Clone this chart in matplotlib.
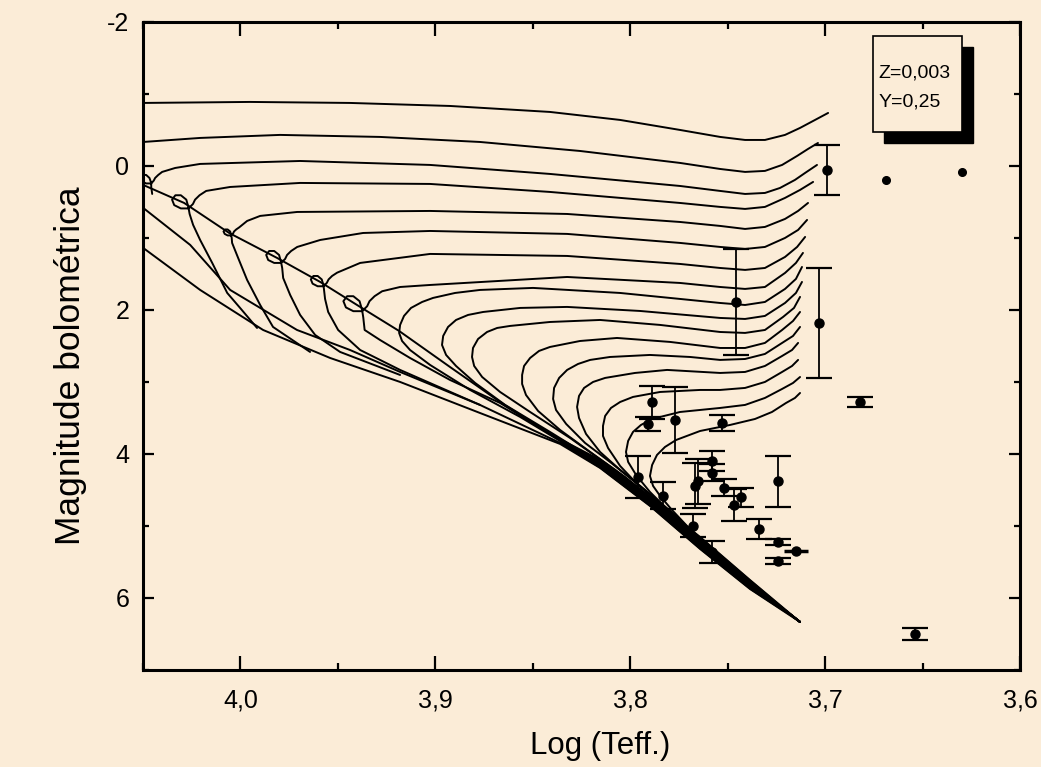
import matplotlib
matplotlib.use("Agg")
import matplotlib.pyplot as plt
from matplotlib.ticker import MultipleLocator, FuncFormatter
from matplotlib.patches import Rectangle

plt.rcParams['font.family'] = ['Liberation Sans', 'DejaVu Sans']
plt.rcParams['axes.unicode_minus'] = False

BG = '#fbecd7'

# ---- isochrones (log Teff, Mbol) ----
iso01_logt = [4.0499, 3.9951, 3.9438, 3.8925, 3.8412, 3.8052, 3.7745, 3.7539, 3.7411, 3.7309,
              3.7206, 3.7129, 3.7052, 3.6985]
iso01_mbol = [-0.875, -0.889, -0.875, -0.833, -0.750, -0.639, -0.500, -0.403, -0.361, -0.361,
              -0.431, -0.528, -0.639, -0.736]

iso02_logt = [4.0499, 4.0207, 3.9797, 3.9284, 3.8771, 3.8258, 3.7745, 3.7539, 3.7411, 3.7309,
              3.7221, 3.7144, 3.7088, 3.7037]
iso02_mbol = [-0.333, -0.389, -0.431, -0.403, -0.333, -0.208, -0.042, 0.042, 0.083, 0.069,
              -0.014, -0.139, -0.236, -0.319]

iso03_logt = [4.0453, 4.0458, 4.0458, 4.0467, 4.0484, 4.0503, 4.0513, 4.0506, 4.0484, 4.0458,
              4.0445, 4.0438, 4.0422, 4.0402, 4.0335, 4.0207, 3.9694, 3.9027, 3.8412, 3.7745,
              3.7539, 3.7411, 3.7309, 3.7232, 3.7155, 3.7103, 3.7042]
iso03_mbol = [0.389, 0.292, 0.236, 0.167, 0.125, 0.125, 0.167, 0.214, 0.243, 0.243,
              0.204, 0.167, 0.125, 0.083, 0.028, -0.028, -0.069, -0.014, 0.111, 0.278,
              0.347, 0.389, 0.375, 0.306, 0.194, 0.097, -0.014]

iso04_logt = [3.9915, 4.0002, 4.0068, 4.0145, 4.0207, 4.0243, 4.0261, 4.0267, 4.0278, 4.0306,
              4.0334, 4.0351, 4.0340, 4.0306, 4.0267, 4.0244, 4.0233, 4.0210, 4.0176, 4.0053,
              3.9694, 3.9027, 3.8412, 3.7745, 3.7539, 3.7411, 3.7309, 3.7206, 3.7129, 3.7062]
iso04_mbol = [2.250, 1.972, 1.764, 1.347, 1.028, 0.819, 0.667, 0.575, 0.468, 0.407,
              0.407, 0.468, 0.544, 0.590, 0.590, 0.529, 0.468, 0.407, 0.347, 0.292,
              0.236, 0.250, 0.361, 0.514, 0.569, 0.597, 0.569, 0.444, 0.333, 0.222]

iso05_logt = [3.9643, 3.9833, 3.9899, 3.9966, 4.0012, 4.0043, 4.0045, 4.0048, 4.0053, 4.0066,
              4.0079, 4.0087, 4.0081, 4.0066, 4.0048, 4.0038, 4.0033, 4.0022, 4.0007, 3.9966,
              3.9899, 3.9709, 3.9027, 3.8324, 3.7745, 3.7539, 3.7411, 3.7309, 3.7206, 3.7139,
              3.7088]
iso05_mbol = [2.583, 2.236, 1.931, 1.583, 1.278, 1.069, 1.000, 0.958, 0.910, 0.882,
              0.882, 0.910, 0.944, 0.965, 0.965, 0.938, 0.910, 0.882, 0.854, 0.764,
              0.694, 0.639, 0.625, 0.667, 0.778, 0.833, 0.875, 0.847, 0.736, 0.625,
              0.514]

iso06_logt = [3.9181, 3.9489, 3.9617, 3.9694, 3.9745, 3.9781, 3.9786, 3.9792, 3.9802, 3.9827,
              3.9853, 3.9868, 3.9858, 3.9827, 3.9792, 3.9771, 3.9761, 3.9740, 3.9709, 3.9591,
              3.9371, 3.9027, 3.8324, 3.7745, 3.7539, 3.7411, 3.7309, 3.7206, 3.7139, 3.7093]
iso06_mbol = [2.903, 2.583, 2.347, 2.069, 1.792, 1.556, 1.417, 1.333, 1.236, 1.181,
              1.181, 1.236, 1.306, 1.347, 1.347, 1.292, 1.236, 1.181, 1.125, 1.028,
              0.931, 0.903, 0.944, 1.069, 1.125, 1.153, 1.125, 1.000, 0.889, 0.750]

iso07_logt = [3.8771, 3.9181, 3.9386, 3.9499, 3.9550, 3.9566, 3.9571, 3.9574, 3.9583, 3.9604,
              3.9626, 3.9639, 3.9630, 3.9604, 3.9574, 3.9557, 3.9548, 3.9530, 3.9504, 3.9386,
              3.9027, 3.8324, 3.7745, 3.7539, 3.7411, 3.7309, 3.7206, 3.7144, 3.7103]
iso07_mbol = [3.319, 2.833, 2.556, 2.278, 2.028, 1.847, 1.729, 1.658, 1.576, 1.528,
              1.528, 1.576, 1.635, 1.671, 1.671, 1.624, 1.576, 1.528, 1.482, 1.347,
              1.222, 1.250, 1.361, 1.417, 1.444, 1.417, 1.264, 1.125, 0.986]

iso08_logt = [3.8360, 3.8668, 3.8925, 3.9130, 3.9284, 3.9363, 3.9370, 3.9376, 3.9389, 3.9421,
              3.9453, 3.9472, 3.9459, 3.9421, 3.9376, 3.9350, 3.9338, 3.9312, 3.9273, 3.9181,
              3.9027, 3.8324, 3.7745, 3.7539, 3.7411, 3.7309, 3.7206, 3.7150, 3.7114]
iso08_mbol = [3.806, 3.292, 2.972, 2.667, 2.417, 2.278, 2.104, 2.000, 1.878, 1.809,
              1.809, 1.878, 1.965, 2.017, 2.017, 1.948, 1.878, 1.809, 1.740, 1.681,
              1.653, 1.542, 1.625, 1.681, 1.708, 1.681, 1.486, 1.347, 1.208]

iso09_logt = [3.7129, 3.7386, 3.7642, 3.8052, 3.8309, 3.8565, 3.8822, 3.9027, 3.9130, 3.9171,
              3.9186, 3.9181, 3.9161, 3.9125, 3.9068, 3.9012, 3.8899, 3.8771, 3.8499, 3.8052,
              3.7745, 3.7539, 3.7411, 3.7309, 3.7206, 3.7150, 3.7119]
iso09_mbol = [6.333, 5.792, 5.194, 4.333, 3.903, 3.486, 3.111, 2.764, 2.556, 2.431,
              2.319, 2.208, 2.083, 1.972, 1.889, 1.833, 1.764, 1.722, 1.694, 1.764,
              1.847, 1.903, 1.931, 1.889, 1.708, 1.569, 1.403]

iso10_logt = [3.7129, 3.7386, 3.7642, 3.7950, 3.8155, 3.8412, 3.8642, 3.8796, 3.8894, 3.8945,
              3.8966, 3.8960, 3.8935, 3.8894, 3.8832, 3.8755, 3.8565, 3.8324, 3.7950, 3.7539,
              3.7411, 3.7309, 3.7206, 3.7150, 3.7119]
iso10_mbol = [6.333, 5.792, 5.194, 4.528, 4.125, 3.694, 3.319, 3.014, 2.778, 2.625,
              2.486, 2.361, 2.236, 2.139, 2.069, 2.028, 1.972, 1.958, 2.014, 2.111,
              2.125, 2.083, 1.903, 1.764, 1.611]

iso11_logt = [3.7129, 3.7386, 3.7642, 3.7899, 3.8078, 3.8309, 3.8514, 3.8668, 3.8760, 3.8801,
              3.8812, 3.8807, 3.8781, 3.8735, 3.8683, 3.8617, 3.8412, 3.8155, 3.7847, 3.7539,
              3.7411, 3.7309, 3.7216, 3.7160, 3.7129]
iso11_mbol = [6.333, 5.792, 5.194, 4.597, 4.222, 3.778, 3.417, 3.139, 2.931, 2.778,
              2.653, 2.528, 2.403, 2.306, 2.250, 2.222, 2.167, 2.139, 2.208, 2.306,
              2.319, 2.278, 2.097, 1.972, 1.819]

iso12_logt = [3.7129, 3.7386, 3.7642, 3.7847, 3.8027, 3.8206, 3.8360, 3.8473, 3.8535, 3.8555,
              3.8555, 3.8545, 3.8514, 3.8468, 3.8412, 3.8258, 3.8068, 3.7796, 3.7539, 3.7411,
              3.7309, 3.7221, 3.7165, 3.7129]
iso12_mbol = [6.333, 5.792, 5.194, 4.708, 4.319, 3.972, 3.667, 3.403, 3.181, 3.028,
              2.903, 2.778, 2.667, 2.569, 2.514, 2.431, 2.389, 2.444, 2.528, 2.528,
              2.458, 2.278, 2.153, 2.028]

iso13_logt = [3.7129, 3.7386, 3.7642, 3.7796, 3.7950, 3.8104, 3.8232, 3.8329, 3.8381, 3.8396,
              3.8391, 3.8365, 3.8324, 3.8268, 3.8206, 3.8104, 3.7899, 3.7693, 3.7539, 3.7411,
              3.7309, 3.7221, 3.7165, 3.7129]
iso13_mbol = [6.333, 5.792, 5.194, 4.806, 4.444, 4.111, 3.847, 3.583, 3.389, 3.236,
              3.083, 2.944, 2.833, 2.750, 2.694, 2.653, 2.625, 2.653, 2.694, 2.681,
              2.611, 2.458, 2.361, 2.236]

iso14_logt = [3.7129, 3.7386, 3.7616, 3.7770, 3.7924, 3.8052, 3.8155, 3.8227, 3.8263, 3.8273,
              3.8263, 3.8237, 3.8191, 3.8129, 3.7976, 3.7811, 3.7539, 3.7411, 3.7309, 3.7221,
              3.7170, 3.7139]
iso14_mbol = [6.333, 5.792, 5.264, 4.847, 4.500, 4.222, 3.972, 3.722, 3.500, 3.347,
              3.194, 3.083, 3.000, 2.944, 2.875, 2.833, 2.875, 2.861, 2.778, 2.639,
              2.556, 2.458]

iso15_logt = [3.7129, 3.7386, 3.7591, 3.7719, 3.7847, 3.7960, 3.8052, 3.8114, 3.8140, 3.8140,
              3.8129, 3.8099, 3.8052, 3.7986, 3.7847, 3.7642, 3.7539, 3.7411, 3.7309, 3.7221,
              3.7170, 3.7139]
iso15_mbol = [6.333, 5.792, 5.333, 4.986, 4.681, 4.431, 4.167, 3.917, 3.750, 3.611,
              3.472, 3.361, 3.278, 3.208, 3.139, 3.111, 3.111, 3.083, 3.000, 2.861,
              2.778, 2.694]

iso16_logt = [3.7129, 3.7360, 3.7539, 3.7683, 3.7806, 3.7899, 3.7970, 3.8011, 3.8022, 3.8011,
              3.7986, 3.7945, 3.7888, 3.7745, 3.7539, 3.7411, 3.7309, 3.7221, 3.7165, 3.7129]
iso16_mbol = [6.333, 5.847, 5.444, 5.097, 4.778, 4.528, 4.292, 4.111, 3.972, 3.819,
              3.694, 3.597, 3.514, 3.417, 3.361, 3.319, 3.222, 3.097, 3.014, 2.931]

iso17_logt = [3.7129, 3.7334, 3.7488, 3.7601, 3.7704, 3.7786, 3.7847, 3.7883, 3.7899, 3.7888,
              3.7863, 3.7822, 3.7765, 3.7642, 3.7488, 3.7360, 3.7273, 3.7201, 3.7155, 3.7129]
iso17_mbol = [6.333, 5.903, 5.556, 5.278, 5.014, 4.778, 4.583, 4.444, 4.306, 4.153,
              4.014, 3.903, 3.806, 3.681, 3.597, 3.514, 3.417, 3.292, 3.222, 3.153]

# ---- main-sequence lines entering from the hot edge ----
ms_upper_logt = [4.0499, 4.0289, 4.0058, 3.9812, 3.9591, 3.9402, 3.9186, 3.8925, 3.8668,
                 3.8412, 3.8155, 3.7899, 3.7642, 3.7386, 3.7129]
ms_upper_mbol = [0.264, 0.514, 0.931, 1.278, 1.611, 1.931, 2.292, 2.792, 3.278,
                 3.722, 4.083, 4.597, 5.153, 5.750, 6.333]

ms_mid_logt = [4.0499, 4.0258, 4.0053, 3.9710, 3.9438, 3.9181, 3.8771, 3.8360, 3.8155,
               3.7899, 3.7642, 3.7386, 3.7129]
ms_mid_mbol = [0.583, 1.097, 1.722, 2.278, 2.556, 2.861, 3.319, 3.847, 4.153,
               4.667, 5.236, 5.806, 6.333]

zams_logt = [4.0499, 4.0207, 3.9884, 3.9540, 3.9181, 3.8771, 3.8360, 3.8155, 3.7899,
             3.7642, 3.7386, 3.7129]
zams_mbol = [1.139, 1.722, 2.278, 2.667, 3.000, 3.431, 3.861, 4.194, 4.722,
             5.319, 5.875, 6.333]

# dense lower main sequence where all isochrones pile up
band_upper_logt = [3.8360, 3.8155, 3.7899, 3.7642, 3.7386, 3.7129]
band_upper_mbol = [3.806, 4.083, 4.597, 5.153, 5.750, 6.333]
band_lower_logt = [3.7129, 3.7386, 3.7642, 3.7899, 3.8155, 3.8360]
band_lower_mbol = [6.333, 5.875, 5.319, 4.722, 4.194, 3.847]

# ---- observed stars with vertical error bars ----
star_logt = [3.699, 3.746, 3.703, 3.682, 3.654,
             3.789, 3.791, 3.777, 3.753, 3.796, 3.783, 3.768, 3.758, 3.758, 3.758,
             3.765, 3.767, 3.752, 3.743, 3.747, 3.724, 3.734, 3.724, 3.724]
star_mbol = [0.06, 1.89, 2.18, 3.28, 6.50,
             3.28, 3.58, 3.53, 3.57, 4.32, 4.58, 5.00, 5.36, 4.10, 4.26,
             4.38, 4.44, 4.47, 4.60, 4.71, 4.38, 5.04, 5.22, 5.49]
star_err = [0.35, 0.74, 0.76, 0.07, 0.08,
            0.23, 0.10, 0.46, 0.11, 0.29, 0.19, 0.16, 0.15, 0.14, 0.12,
            0.31, 0.31, 0.12, 0.13, 0.22, 0.35, 0.14, 0.04, 0.04]

# star with a horizontal error bar
hstar_logt = [3.715]
hstar_mbol = [5.35]
hstar_err = [0.006]

# stars without error bars
free_logt = [3.669, 3.630]
free_mbol = [0.19, 0.08]

isochrones = [
    (iso01_logt, iso01_mbol), (iso02_logt, iso02_mbol), (iso03_logt, iso03_mbol),
    (iso04_logt, iso04_mbol), (iso05_logt, iso05_mbol), (iso06_logt, iso06_mbol),
    (iso07_logt, iso07_mbol), (iso08_logt, iso08_mbol), (iso09_logt, iso09_mbol),
    (iso10_logt, iso10_mbol), (iso11_logt, iso11_mbol), (iso12_logt, iso12_mbol),
    (iso13_logt, iso13_mbol), (iso14_logt, iso14_mbol), (iso15_logt, iso15_mbol),
    (iso16_logt, iso16_mbol), (iso17_logt, iso17_mbol),
    (ms_upper_logt, ms_upper_mbol), (ms_mid_logt, ms_mid_mbol), (zams_logt, zams_mbol),
]

fig = plt.figure(figsize=(10.41, 7.67), dpi=100, facecolor=BG)
ax = fig.add_axes([0.1374, 0.1265, 0.8425, 0.8449], facecolor=BG)

for lt, mb in isochrones:
    ax.plot(lt, mb, color='black', lw=1.4, solid_joinstyle='round', solid_capstyle='round')

ax.fill(band_upper_logt + band_lower_logt, band_upper_mbol + band_lower_mbol,
        color='black', lw=0.8)

ax.errorbar(star_logt, star_mbol, yerr=star_err, fmt='o', color='black', ms=6.5,
            capsize=9.5, elinewidth=1.3, capthick=1.6, zorder=5)
ax.errorbar(hstar_logt, hstar_mbol, xerr=hstar_err, fmt='o', color='black', ms=6.5,
            elinewidth=2.5, capsize=0, zorder=5)
ax.plot(free_logt, free_mbol, 'o', color='black', ms=5.5, zorder=5)

ax.set_xlim(4.05, 3.60)
ax.set_ylim(7.0, -2.0)

ax.xaxis.set_major_locator(MultipleLocator(0.1))
ax.xaxis.set_minor_locator(MultipleLocator(0.05))
ax.yaxis.set_major_locator(MultipleLocator(2))
ax.yaxis.set_minor_locator(MultipleLocator(1))
ax.xaxis.set_major_formatter(FuncFormatter(lambda v, p: f"{v:.1f}".replace('.', ',')))
ax.yaxis.set_major_formatter(FuncFormatter(lambda v, p: f"{v:.0f}"))

ax.tick_params(which='both', direction='in', top=True, right=True, width=1.6,
               labelsize=18, colors='black')
ax.tick_params(axis='x', which='major', length=10, pad=13)
ax.tick_params(axis='x', which='minor', length=5)
ax.tick_params(axis='y', which='major', length=8, pad=10)
ax.tick_params(axis='y', which='minor', length=4)

for s in ax.spines.values():
    s.set_linewidth(2.2)

ax.set_xlabel('Log (Teff.)', fontsize=22.5)
ax.set_ylabel('Magnitude bolométrica', fontsize=25.5)
ax.xaxis.set_label_coords(0.521, -0.094)
ax.yaxis.set_label_coords(-0.064, 0.47)

# composition box with drop shadow
bx, by, bw, bh = 0.8324, 0.8302, 0.1015, 0.1482
ax.add_patch(Rectangle((bx + 0.0125, by - 0.017), bw, bh, transform=ax.transAxes,
                       facecolor='black', edgecolor='black', zorder=6, clip_on=False))
ax.add_patch(Rectangle((bx, by), bw, bh, transform=ax.transAxes,
                       facecolor=BG, edgecolor='black', lw=1.2, zorder=7, clip_on=False))
ax.text(bx + 0.006, 0.9136, 'Z=0,003', transform=ax.transAxes, fontsize=14,
        va='baseline', ha='left', zorder=8)
ax.text(bx + 0.006, 0.869, 'Y=0,25', transform=ax.transAxes, fontsize=14,
        va='baseline', ha='left', zorder=8)

fig.savefig('out.png', dpi=100, facecolor=BG)
